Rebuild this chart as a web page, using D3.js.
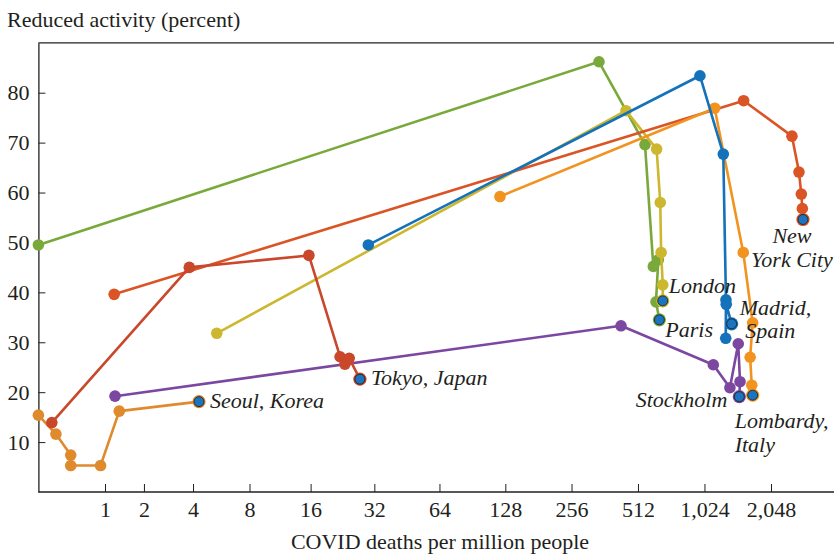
<!DOCTYPE html>
<html>
<head>
<meta charset="utf-8">
<script src="https://cdn.jsdelivr.net/npm/d3@7"></script>
<style>
  body { margin: 0; background: #fff; }
  svg text { font-family: "Liberation Serif", "Times New Roman", serif; fill: #231f20; }
  .axis path, .axis line { stroke: #231f20; }
</style>
</head>
<body>
<svg id="chart"></svg>
<script>
// series values: deaths per million (x), reduced activity % (y)
var cities = ["Paris", "London", "New York City", "Lombardy, Italy", "Madrid, Spain", "Stockholm", "Seoul, Korea", "Tokyo, Japan"];

var paris_x = [0, 341, 551, 601, 633, 618, 640];
var paris_y = [49.5, 86.2, 69.6, 45.2, 46.5, 38.1, 34.5];

var london_x = [5.4, 452, 622, 646, 652, 663, 663];
var london_y = [31.8, 76.4, 68.7, 58.0, 48.0, 41.5, 38.3];

var nyc_x = [1.2, 1540, 2547, 2740, 2808, 2838, 2857];
var nyc_y = [39.6, 78.4, 71.3, 64.1, 59.7, 56.8, 54.6];

var lombardy_x = [121, 1139, 1534, 1692, 1648, 1676, 1692];
var lombardy_y = [59.2, 76.9, 48.0, 33.9, 27.0, 21.4, 19.4];

var madrid_x = [30, 977, 1246, 1281, 1278, 1285, 1359];
var madrid_y = [49.5, 83.4, 67.7, 38.5, 30.8, 37.6, 33.7];

var stockholm_x = [1.22, 429, 1123, 1335, 1456, 1483, 1472];
var stockholm_y = [19.2, 33.3, 25.5, 20.9, 29.7, 22.1, 19.1];

var seoul_x = [0, 0.2, 0.4, 0.4, 0.91, 1.32, 4.32];
var seoul_y = [15.4, 11.6, 7.4, 5.3, 5.3, 16.2, 18.1];

var tokyo_x = [0.15, 3.81, 15.7, 22.1, 23.3, 24.4, 27.4];
var tokyo_y = [13.9, 45.0, 47.4, 27.1, 25.6, 26.8, 22.6];

var xTicks = [1, 2, 4, 8, 16, 32, 64, 128, 256, 512, 1024, 2048];
var yTicks = [10, 20, 30, 40, 50, 60, 70, 80];

(function() {
    var width = 834, height = 554;
    var svg = d3.select("#chart").attr("width", width).attr("height", height);

    // x axis is log2(1 + deaths), so zero sits on the left edge
    var x = d3.scaleSymlog().constant(1).domain([0, 4000]).range([38.4, 835.3]);
    var y = d3.scaleLinear().domain([0, 90]).range([492, 42.8]);

    var series = [
        {name: cities[0], xs: paris_x, ys: paris_y, color: "#78a93a"},
        {name: cities[1], xs: london_x, ys: london_y, color: "#cdb72f"},
        {name: cities[2], xs: nyc_x, ys: nyc_y, color: "#da5426"},
        {name: cities[3], xs: lombardy_x, ys: lombardy_y, color: "#f2921f"},
        {name: cities[4], xs: madrid_x, ys: madrid_y, color: "#1372ba"},
        {name: cities[5], xs: stockholm_x, ys: stockholm_y, color: "#7b47a0"},
        {name: cities[6], xs: seoul_x, ys: seoul_y, color: "#df8a2c"},
        {name: cities[7], xs: tokyo_x, ys: tokyo_y, color: "#c9472a"}
    ];
    series.forEach(function(s) {
        s.points = s.xs.map(function(v, i) { return [v, s.ys[i]]; });
    });

    // frame: top line (no right edge, it runs off the picture)
    svg.append("line")
        .attr("x1", x(0)).attr("x2", width)
        .attr("y1", y(90)).attr("y2", y(90))
        .attr("stroke", "#231f20").attr("stroke-width", 1.3);

    var xAxis = svg.append("g")
        .attr("class", "axis")
        .attr("transform", "translate(0," + y(0) + ")")
        .call(d3.axisTop(x).tickValues(xTicks).tickSize(8).tickSizeOuter(0).tickFormat(d3.format(",")));
    xAxis.select(".domain").attr("stroke-width", 1.3).attr("d", "M" + x(0) + ",0H" + width);
    xAxis.selectAll("text")
        .attr("y", 25).attr("dy", 0)
        .style("font-size", "22px");

    var yAxis = svg.append("g")
        .attr("class", "axis")
        .attr("transform", "translate(" + x(0) + ",0)")
        .call(d3.axisRight(y).tickValues(yTicks).tickSize(7).tickSizeOuter(0));
    yAxis.select(".domain").attr("stroke-width", 1.3);
    yAxis.selectAll("text")
        .attr("x", -9).attr("text-anchor", "end")
        .style("font-size", "22px");

    var line = d3.line()
        .x(function(d) { return x(d[0]); })
        .y(function(d) { return y(d[1]); });

    series.forEach(function(s) {
        var g = svg.append("g");
        g.append("path")
            .attr("d", line(s.points))
            .attr("fill", "none")
            .attr("stroke", s.color)
            .attr("stroke-width", 2.6)
            .attr("stroke-linejoin", "round");
        g.selectAll("circle.pt")
            .data(s.points.slice(0, -1))
            .enter()
            .append("circle")
            .attr("class", "pt")
            .attr("cx", function(d) { return x(d[0]); })
            .attr("cy", function(d) { return y(d[1]); })
            .attr("r", 5.8)
            .attr("fill", s.color);
        // last week gets the blue marker
        var last = s.points[s.points.length - 1];
        g.append("circle")
            .attr("cx", x(last[0])).attr("cy", y(last[1]))
            .attr("r", 6.6).attr("fill", s.color);
        g.append("circle")
            .attr("cx", x(last[0])).attr("cy", y(last[1]))
            .attr("r", 5).attr("fill", "#1a74c0")
            .attr("stroke", "#222").attr("stroke-width", 0.9);
    });

    // city labels, placed next to each end point (pixel offsets)
    var labelSpots = {
        "New York City": {dx: -11, dy: 24, anchor: "middle", lines: ["New", "York City"]},
        "London": {dx: 6, dy: -8, anchor: "start", lines: ["London"]},
        "Paris": {dx: 6, dy: 17, anchor: "start", lines: ["Paris"]},
        "Madrid, Spain": {dx: 8, dy: -9, anchor: "start", lines: ["Madrid,", " Spain"]},
        "Stockholm": {dx: -12, dy: 10, anchor: "end", lines: ["Stockholm"]},
        "Lombardy, Italy": {dx: -18, dy: 33, anchor: "start", lines: ["Lombardy,", "Italy"]},
        "Seoul, Korea": {dx: 11, dy: 6, anchor: "start", lines: ["Seoul, Korea"]},
        "Tokyo, Japan": {dx: 11, dy: 6, anchor: "start", lines: ["Tokyo, Japan"]}
    };
    series.forEach(function(s) {
        var spot = labelSpots[s.name];
        var last = s.points[s.points.length - 1];
        var t = svg.append("text")
            .attr("text-anchor", spot.anchor)
            .style("font-size", "22px")
            .style("font-style", "italic");
        spot.lines.forEach(function(l, i) {
            t.append("tspan")
                .attr("x", x(last[0]) + spot.dx)
                .attr("y", y(last[1]) + spot.dy + i * 23.5)
                .attr("xml:space", "preserve")
                .text(l);
        });
    });

    // axis titles
    svg.append("text")
        .attr("x", 7).attr("y", 27)
        .style("font-size", "22px")
        .text("Reduced activity (percent)");
    svg.append("text")
        .attr("x", 440).attr("y", 549)
        .attr("text-anchor", "middle")
        .style("font-size", "22px")
        .text("COVID deaths per million people");
})();
</script>
</body>
</html>
